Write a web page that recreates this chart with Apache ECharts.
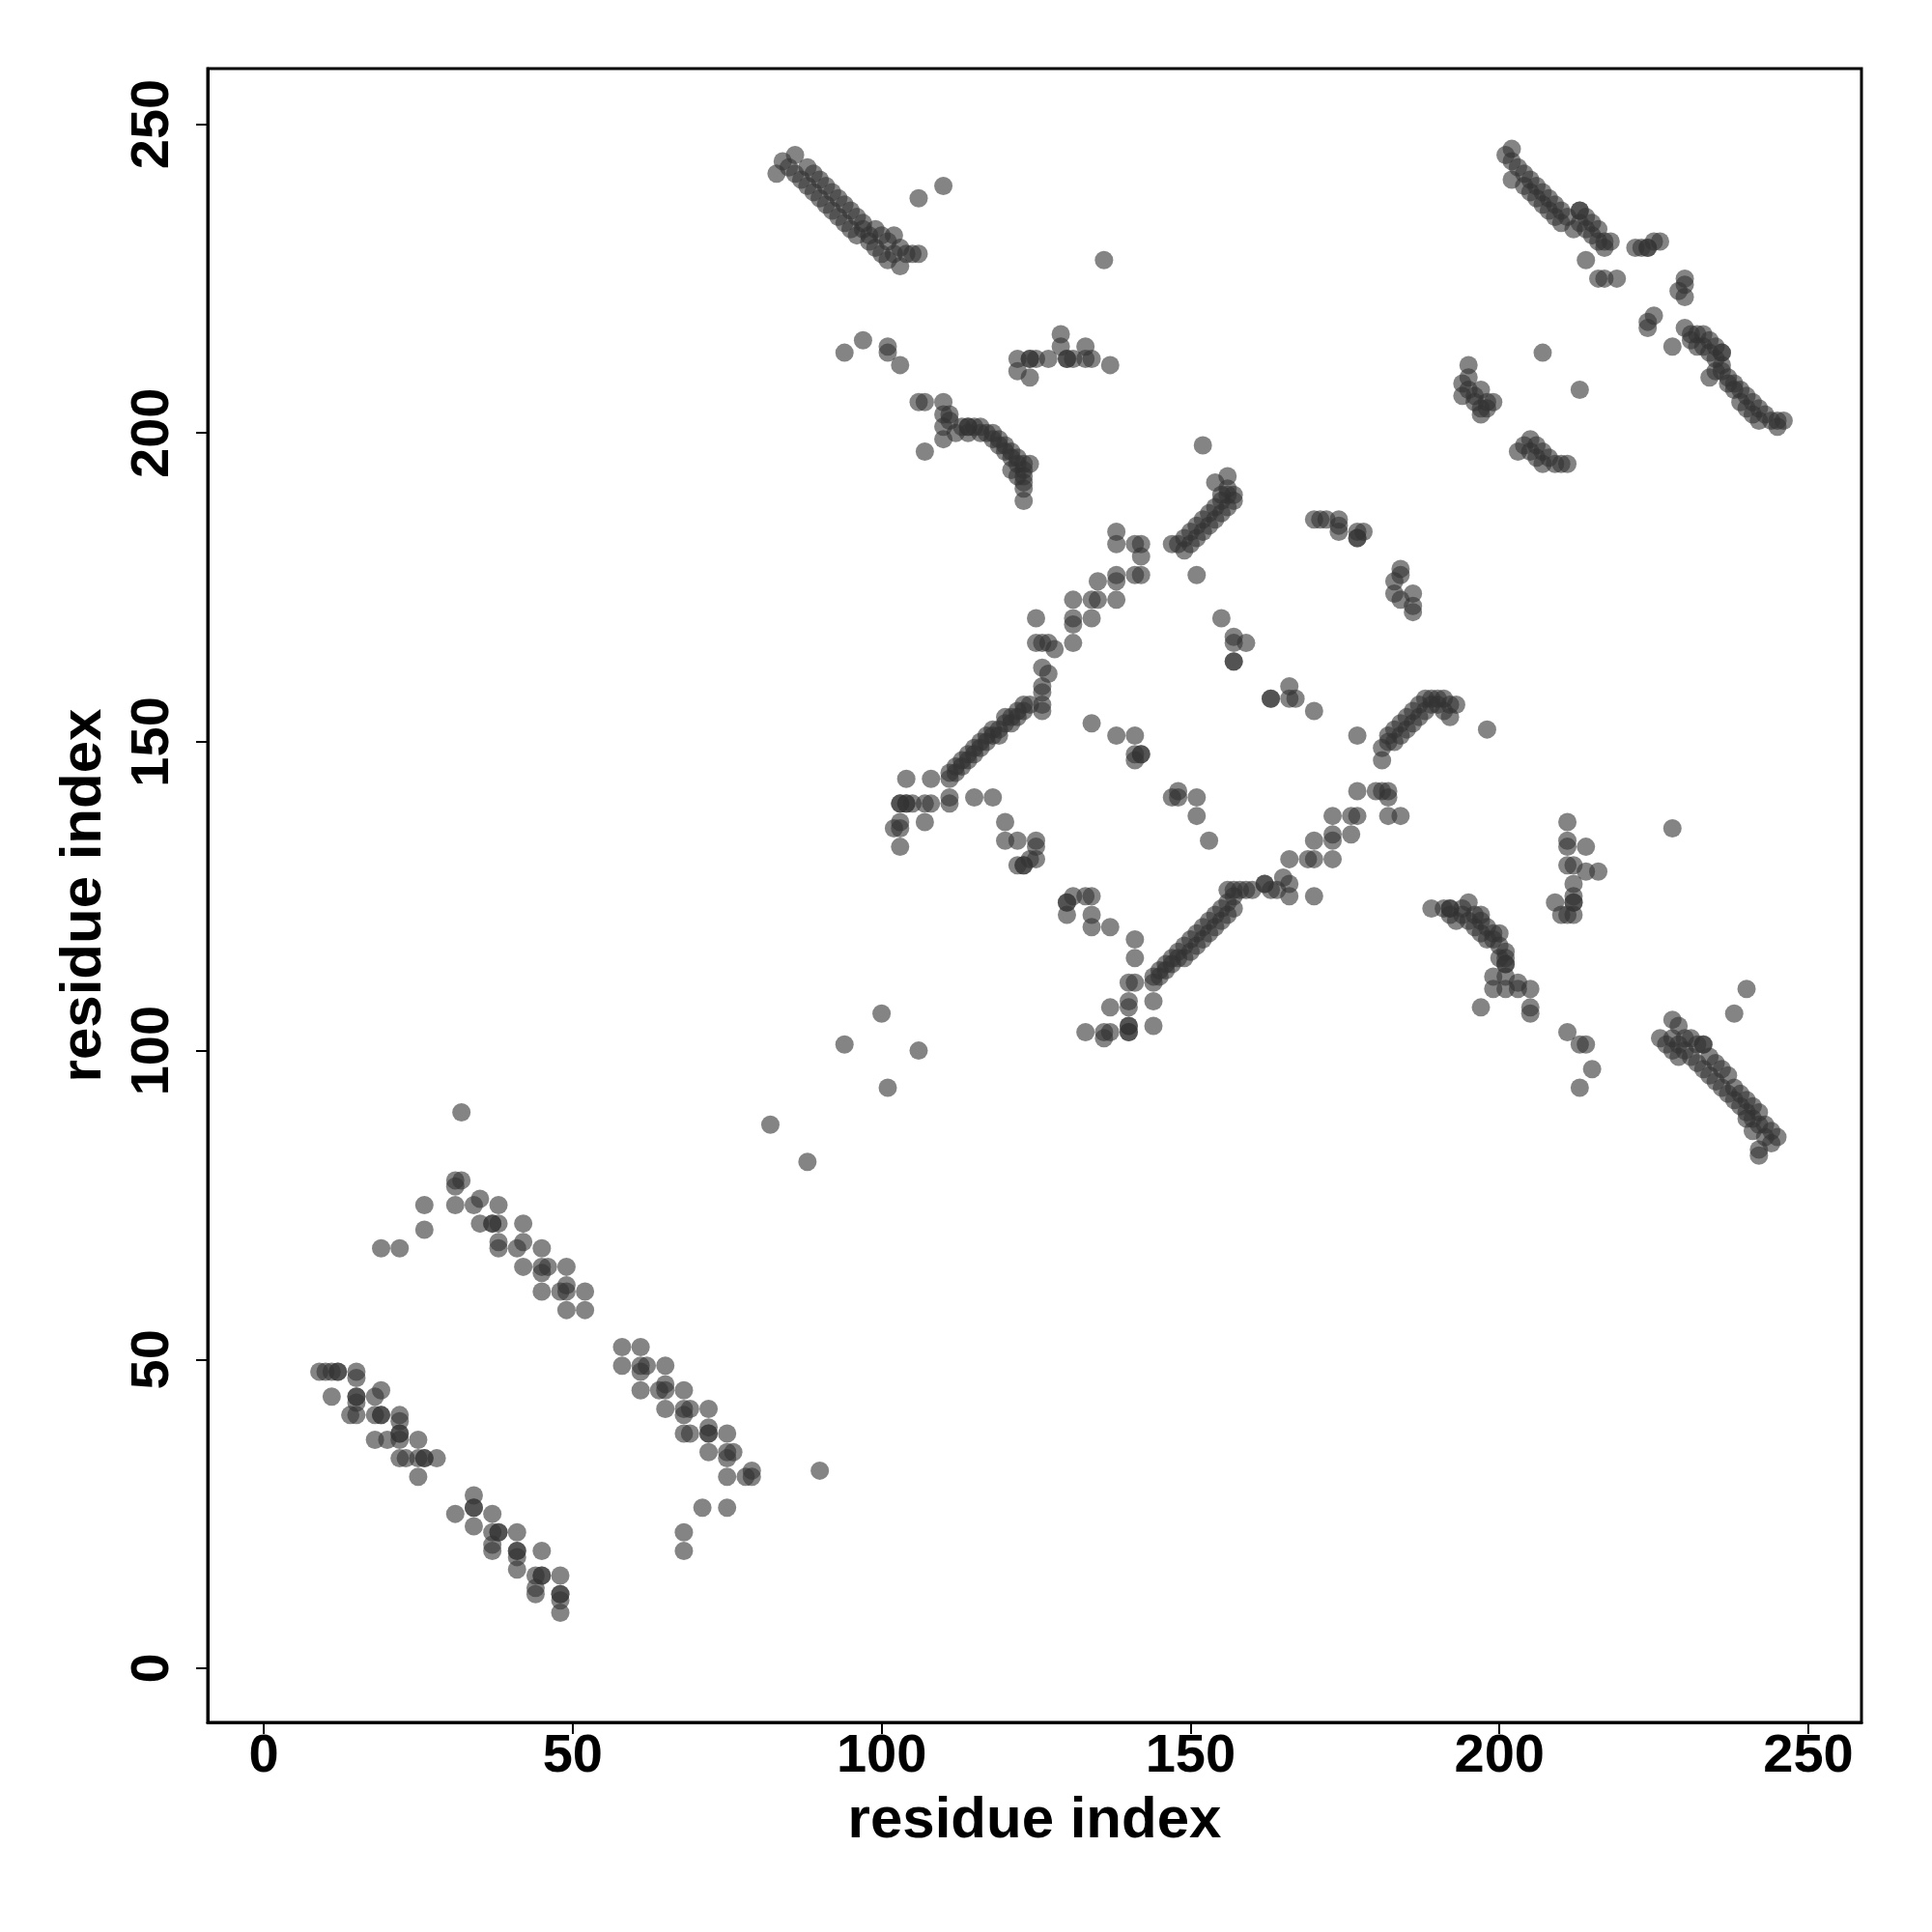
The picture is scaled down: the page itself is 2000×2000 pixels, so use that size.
<!DOCTYPE html>
<html><head><meta charset="utf-8">
<script src="https://cdn.jsdelivr.net/npm/echarts@6/dist/echarts.min.js"></script>
<style>html,body{margin:0;padding:0;background:#fff}#c{width:2000px;height:2000px}</style>
</head><body><div id="c"></div>
<script>
// contact pairs [residue i, residue j]
const sheetLow = [[9,48],[10,48],[11,48],[12,48],[12,48],[15,48],[15,47],[11,44],[15,44],[15,44],[15,43],[19,45],[18,44],
 [14,41],[15,41],[18,41],[19,41],[19,41],[22,41],[22,40],[18,37],[20,37],[22,38],[22,38],[22,37],[25,37],
 [22,34],[23,34],[25,34],[26,34],[26,34],[28,34],[25,31]];
const sheetLow2 = [[34,28],[34,26],[34,26],[31,25],[37,25],[34,23],[37,22],[38,22],[38,22],[41,22],
 [37,20],[37,19],[41,19],[41,19],[41,18],[45,19],[41,16],[44,15],[45,15],[45,15],[48,15],
 [44,13],[44,12],[48,12],[48,12],[48,11],[48,9]];
const sheetMid = [[32,90],[31,79],[32,79],[31,78],[26,75],[26,71],[19,68],[22,68],[31,75],[34,75],[35,76],[38,75],
 [35,72],[37,72],[37,72],[38,72],[42,72],[38,69],[38,68],[41,68],[42,69],[45,68],[42,65],[45,65],[46,65],[45,64],
 [49,65],[45,61],[48,61],[49,62],[49,61],[52,61],[49,58],[52,58]];
const sheetMid2 = [[58,52],[61,52],[58,49],[61,49],[62,49],[61,48],[65,49],[61,45],[64,45],[65,46],[65,45],[68,45],
 [65,42],[68,42],[69,42],[68,41],[72,42],[68,38],[69,38],[72,39],[72,38],[72,38],[75,38],[72,35],[75,35],[76,35],[75,34],
 [75,31],[78,31],[79,32],[79,31],[90,32],[71,26],[75,26],[68,22],[68,19]];
const scatterMid = [[100,106],[94,101],[106,100],[101,94],[82,88],[88,82]];
const strandTop = [[83,242],[84,244],[85,243],[86,245],[86,242],[87,241],[88,243],[88,240],[89,242],[89,239],[90,241],
 [90,238],[91,240],[91,237],[92,239],[92,236],[93,238],[93,235],[94,237],[94,234],[95,236],[95,233],[96,235],[96,232],
 [97,234],[97,233],[98,232],[98,231],[99,233],[99,230],[100,232],[100,229],[101,231],[101,228],[102,232],[102,229],
 [103,230],[103,227],[104,229],[105,229],[106,229],[106,238],[110,240]];
const arcTop = [[94,213],[97,215],[101,214],[101,213],[103,211],[106,205],[107,205],[110,205],[111,203],[111,202],[107,197],
 [110,203],[110,201],[110,199],[112,200],[113,201],[114,201],[114,201],[114,200],[115,201],[116,201],[116,200],[117,200],
 [118,200],[118,199],[119,199],[119,198],[120,198],[120,197],[121,197],[121,196],[122,196],[122,195],[123,195],[123,194],
 [124,195],[123,193],[123,192],[123,191],[123,189],[122,193],[121,194]];
const clusterTop = [[122,212],[122,210],[124,212],[124,212],[124,209],[125,212],[127,212],[129,216],[129,214],[130,212],
 [130,212],[131,212],[133,214],[133,212],[134,212],[137,211],[136,228],[152,198]];
const helixA = [[138,184],[138,182],[141,182],[142,182],[142,180],[141,177],[142,177],[135,176],[138,177],[138,176],
 [131,173],[134,173],[135,173],[138,173],[131,170],[131,169],[134,170],[131,166],[125,170],[125,166],[126,166],
 [127,166],[128,165],[126,162],[127,161],[126,159],[126,158],[126,156],[126,155],[124,156],[123,156],[122,155],
 [121,154],[120,153],[119,152],[118,151],[117,151],[116,150],[115,149],[114,148],[113,147],[112,146],[111,145],[111,144],
 [122,154],[120,154],[118,152],[116,149],[114,147],[113,146],[112,145],[123,155],[121,153],[119,151],[117,150],[115,148]];
const helixA2 = [[104,144],[108,144],[103,140],[103,140],[104,140],[104,140],[105,140],[107,140],[108,140],[111,141],
 [111,140],[115,141],[118,141],[102,136],[103,137],[103,136],[107,137],[103,133],[120,137],[120,134],[122,134],
 [125,134],[125,133],[122,130],[123,130],[123,130],[124,131],[125,131],[134,153],[138,151],[141,151],[141,148],
 [141,147],[142,148],[142,148]];
const strandB = [[157,190],[157,189],[156,190],[156,188],[155,189],[155,187],[154,188],[154,186],[153,187],[153,185],
 [152,186],[152,184],[151,185],[151,183],[150,184],[150,182],[149,183],[149,181],[148,182],[147,182],[154,192],
 [156,193],[156,191],[155,190],[151,177],[155,170],[157,167],[157,166],[159,166],[157,163],[157,163],
 [163,157],[163,157],[166,159],[166,157],[167,157],[170,155],[177,151]];
const clusterB = [[170,186],[171,186],[172,186],[174,186],[174,184],[174,185],[177,184],[178,184],[177,183],[177,183],
 [184,177],[184,178],[183,176],[183,174],[184,173],[186,174],[186,172],[186,171]];
const strandC = [[181,147],[181,149],[182,150],[182,151],[183,150],[183,152],[184,151],[184,153],[185,152],[185,154],
 [186,153],[186,155],[187,154],[187,156],[188,155],[188,157],[189,156],[189,157],[190,157],[190,156],[191,157],
 [191,155],[192,156],[193,156],[192,154],[198,152],
 [177,142],[180,142],[181,142],[182,142],[182,141],[173,138],[176,138],[177,138],[182,138],[184,138],[170,134],
 [173,135],[173,134],[176,135],[166,131],[169,131],[170,131],[173,131],[162,127],[165,128],[166,127],[166,125],[170,125]];
const strandD = [[147,141],[148,141],[148,142],[151,141],[151,138],[153,134],[130,124],[130,124],[131,125],[133,125],
 [134,125],[130,122],[134,122],[134,120],[137,120],[141,118],[141,115],[140,111],[141,111],[144,111],[144,108],
 [137,107],[140,108],[140,107],[140,104],[140,104],[140,103],[140,103],[144,104],[133,103],[136,103],[137,103],[136,102],
 [144,112],[145,113],[145,112],[146,114],[146,113],[147,115],[147,114],[148,116],[148,115],[149,117],[149,115],
 [150,118],[150,116],[151,119],[151,117],[152,120],[152,118],[153,121],[153,119],[154,122],[154,120],[155,123],
 [155,121],[156,124],[156,122],[156,126],[157,126],[157,125],[157,123],[158,126],[159,126],[160,126],[162,127],
 [163,126],[164,126]];
const clusterE = [[211,137],[211,134],[211,133],[214,133],[211,130],[212,130],[214,129],[216,129],[212,127],[212,125],
 [212,124],[212,124],[209,124],[210,122],[211,122],[212,122],[228,136],[211,103],[213,101],[214,101],[215,97],[213,94],
 [240,110],[238,106]];
const strandE = [[189,123],[191,123],[192,123],[192,123],[192,122],[193,121],[194,122],[195,124],[195,121],[196,122],
 [196,120],[197,121],[197,119],[198,120],[198,118],[199,119],[199,118],[200,119],[200,117],[201,116],[201,115],
 [200,115],[201,114],[201,114],[199,112],[199,110],[201,110],[201,112],[203,111],[203,110],[205,110],[205,107],
 [205,106],[194,123],[197,122],[197,107]];
const strandF = [[226,102],[227,101],[228,105],[228,102],[228,100],[229,104],[229,101],[229,99],[230,102],[230,100],
 [231,102],[231,99],[232,101],[232,98],[233,101],[233,101],[233,97],[234,99],[234,96],[235,98],[235,95],[236,97],
 [236,94],[237,96],[237,93],[238,94],[238,92],[239,93],[239,91],[240,92],[240,90],[241,91],[241,89],[242,90],
 [242,88],[243,88],[243,86],[244,87],[244,85],[245,86],[242,84],[242,83],[241,87],[240,89]];
const strandG = [[201,245],[202,246],[202,244],[203,243],[202,241],[204,242],[204,240],[205,241],[205,239],[206,240],
 [206,238],[207,239],[207,237],[208,238],[208,236],[209,237],[209,235],[210,236],[210,234],[211,235],[212,233],
 [213,236],[213,236],[213,234],[214,235],[214,233],[215,234],[215,232],[216,233],[216,231],[217,231],[217,230],
 [218,231],[214,228],[216,225],[217,225],[219,225],[222,230],[223,230],[224,230],[224,230],[225,231],[226,231],
 [229,223],[230,225],[230,224],[230,222],[225,219],[224,218],[224,217],[228,214]];
const strandH = [[230,217],[231,216],[231,215],[232,216],[232,214],[233,216],[233,214],[234,215],[234,213],[235,214],
 [235,212],[236,213],[236,213],[236,211],[234,209],[235,210],[236,210],[237,209],[237,208],[238,208],[238,207],
 [239,207],[239,205],[240,206],[240,204],[241,205],[241,203],[242,204],[242,202],[243,203],[244,202],[245,202],
 [245,201],[246,202],[207,213],[213,207]];
const clusterH = [[195,211],[195,209],[194,208],[194,206],[195,207],[196,206],[196,205],[197,207],[197,204],[198,205],
 [198,204],[199,205],[197,203],[203,197],[204,198],[205,199],[205,197],[206,198],[206,196],[207,197],[207,195],
 [208,196],[209,195],[210,195],[211,195]];

const tickValues = [0, 50, 100, 150, 200, 250];
const axisTitle = 'residue index';

const points = [].concat(sheetLow, sheetLow2, sheetMid, sheetMid2, scatterMid, strandTop, arcTop, clusterTop,
  helixA, helixA2, strandB, clusterB, strandC, strandD, clusterE, strandE, strandF, strandG, strandH, clusterH);

const font = '"Liberation Sans", Arial, sans-serif';
const chart = echarts.init(document.getElementById('c'), null, {renderer: 'canvas'});
function axis(isY) {
  return {
    type: 'value',
    min: isY ? -8.76 : -9.07,
    max: isY ? 259 : 258.6,
    name: axisTitle,
    nameLocation: 'middle',
    nameGap: isY ? 98 : 72,
    nameRotate: isY ? 90 : 0,
    nameTextStyle: {fontFamily: font, fontWeight: 'bold', fontSize: 60, color: '#000'},
    axisLine: {show: true, onZero: false, lineStyle: {color: '#000', width: 3}},
    axisTick: {show: true, length: 12, customValues: tickValues, lineStyle: {color: '#000', width: 2}},
    axisLabel: {customValues: tickValues, fontFamily: font, fontWeight: 'bold', fontSize: 56, color: '#000',
      margin: isY ? 28 : 8, rotate: isY ? 90 : 0},
    splitLine: {show: false}
  };
}
chart.setOption({
  animation: false,
  backgroundColor: '#fff',
  grid: {left: 215, right: 73, top: 71, bottom: 217, show: true, borderColor: '#000', borderWidth: 3, containLabel: false},
  xAxis: axis(false),
  yAxis: axis(true),
  series: [{
    type: 'scatter',
    data: points,
    symbol: 'circle',
    symbolSize: 19,
    itemStyle: {color: 'rgb(50,50,50)', opacity: 0.6},
    emphasis: {disabled: true}
  }]
});
</script></body></html>
